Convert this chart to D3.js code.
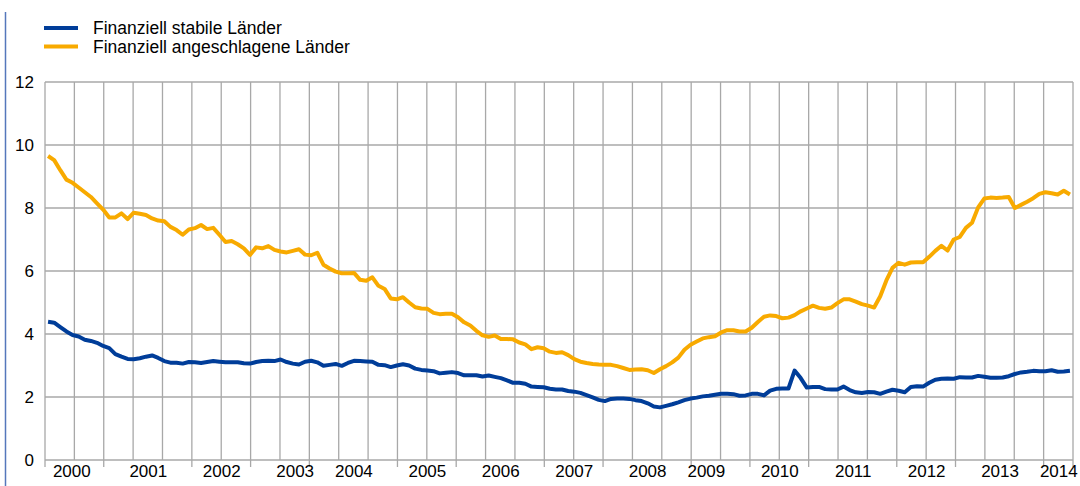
<!DOCTYPE html>
<html>
<head>
<meta charset="utf-8">
<script src="https://cdn.jsdelivr.net/npm/d3@7"></script>
<style>
  body { margin: 0; background: #fff; }
  svg { display: block; font-family: "Liberation Sans", Arial, sans-serif; }
  .grid line { stroke: #a8a8a8; stroke-width: 1.3; }
  .axis path { display: none; }
  .axis text { fill: #000; font-size: 17px; }
  .line { fill: none; stroke-width: 4; stroke-linejoin: round; }
</style>
</head>
<body>
<svg id="chart" width="1080" height="486"></svg>
<script>
// monthly values, Jan 2000 - Dec 2013
var stabile = [
  4.39, 4.36, 4.22, 4.08, 3.97, 3.92, 3.82, 3.78, 3.72, 3.62, 3.55, 3.36,
  3.28, 3.21, 3.20, 3.23, 3.28, 3.32, 3.24, 3.14, 3.09, 3.09, 3.06, 3.11,
  3.10, 3.08, 3.11, 3.14, 3.12, 3.10, 3.10, 3.10, 3.07, 3.06, 3.11, 3.14,
  3.15, 3.14, 3.19, 3.11, 3.06, 3.03, 3.12, 3.15, 3.10, 2.99, 3.02, 3.05,
  2.99, 3.08, 3.15, 3.14, 3.13, 3.12, 3.02, 3.01, 2.95, 3.00, 3.04, 3.00,
  2.90, 2.86, 2.84, 2.82, 2.75, 2.77, 2.79, 2.76, 2.69, 2.69, 2.69, 2.65,
  2.68, 2.64, 2.60, 2.53, 2.45, 2.45, 2.42, 2.33, 2.32, 2.31, 2.26, 2.24,
  2.24, 2.19, 2.17, 2.13, 2.06, 1.99, 1.91, 1.87, 1.94, 1.95, 1.95, 1.94,
  1.90, 1.87, 1.80, 1.70, 1.67, 1.72, 1.77, 1.83, 1.90, 1.95, 1.98, 2.02,
  2.04, 2.07, 2.10, 2.10, 2.09, 2.04, 2.05, 2.10, 2.10, 2.05, 2.20, 2.26,
  2.27, 2.27, 2.84, 2.60, 2.30, 2.32, 2.32, 2.25, 2.24, 2.24, 2.33, 2.22,
  2.15, 2.13, 2.16, 2.15, 2.10, 2.17, 2.23, 2.20, 2.15, 2.32, 2.34, 2.33,
  2.45, 2.55, 2.58, 2.59, 2.58, 2.63, 2.62, 2.62, 2.67, 2.64, 2.61, 2.61,
  2.62, 2.66, 2.73, 2.78, 2.80, 2.83, 2.82, 2.82, 2.85, 2.80, 2.81, 2.83
];
var angeschlagen = [
  9.65, 9.52, 9.20, 8.90, 8.80, 8.65, 8.50, 8.35, 8.15, 7.95, 7.70, 7.70,
  7.83, 7.65, 7.85, 7.82, 7.78, 7.67, 7.60, 7.58, 7.40, 7.30, 7.15, 7.32,
  7.36, 7.46, 7.33, 7.37, 7.15, 6.92, 6.95, 6.85, 6.72, 6.51, 6.75, 6.72,
  6.79, 6.67, 6.62, 6.59, 6.64, 6.69, 6.52, 6.50, 6.58, 6.20, 6.08, 5.98,
  5.93, 5.93, 5.94, 5.72, 5.69, 5.80, 5.53, 5.43, 5.13, 5.10, 5.17, 5.00,
  4.85, 4.81, 4.80, 4.67, 4.63, 4.64, 4.64, 4.53, 4.37, 4.27, 4.10, 3.96,
  3.91, 3.95, 3.84, 3.84, 3.83, 3.73, 3.67, 3.52, 3.58, 3.55, 3.44, 3.40,
  3.42, 3.33, 3.20, 3.12, 3.08, 3.05, 3.03, 3.02, 3.02, 2.98, 2.92, 2.86,
  2.87, 2.88, 2.85, 2.76, 2.88, 2.98, 3.10, 3.25, 3.50, 3.66, 3.76, 3.86,
  3.90, 3.93, 4.05, 4.12, 4.12, 4.08, 4.08, 4.20, 4.38, 4.55, 4.59, 4.57,
  4.50, 4.52, 4.60, 4.72, 4.81, 4.90, 4.83, 4.80, 4.84, 4.98, 5.10, 5.10,
  5.03, 4.95, 4.90, 4.84, 5.20, 5.70, 6.10, 6.26, 6.20, 6.27, 6.28, 6.28,
  6.45, 6.64, 6.80, 6.65, 7.00, 7.08, 7.37, 7.53, 8.02, 8.30, 8.33, 8.32,
  8.33, 8.35, 8.00, 8.10, 8.20, 8.31, 8.45, 8.50, 8.47, 8.43, 8.55, 8.43
];
var seriesNames = ["Finanziell stabile Länder", "Finanziell angeschlagene Länder"];
var seriesColors = ["#003d99", "#f8aa00"];
var years = ["2000", "2001", "2002", "2003", "2004", "2005", "2006", "2007",
             "2008", "2009", "2010", "2011", "2012", "2013", "2014"];
// where the year labels sit, in months from the start
var yearAt = [4.3, 16.8, 28.8, 40.8, 50.4, 62.4, 74.4, 86.4, 98.4, 108, 120, 132, 144, 156, 165.6];
// gridline numbers that get a small tick below the axis
var tickLines = [0, 2, 5, 7, 9, 12, 14, 17, 19, 22, 24, 26, 29, 31, 34, 35];
var yTicks = [0, 2, 4, 6, 8, 10, 12];

var svg = d3.select("#chart"),
    margin = {top: 82, right: 7, bottom: 26, left: 45},
    width = svg.attr("width") - margin.left - margin.right,
    height = svg.attr("height") - margin.top - margin.bottom,
    g = svg.append("g").attr("transform", "translate(" + margin.left + "," + margin.top + ")");

var n = stabile.length,
    step = n / 35;
var x = d3.scaleLinear().domain([0, n]).range([0, width]),
    y = d3.scaleLinear().domain([0, 12]).range([height, 0]);

// page frame line on the left
svg.append("line")
    .attr("x1", 5.5).attr("x2", 5.5)
    .attr("y1", 12).attr("y2", 486)
    .attr("stroke", "#5577bb").attr("stroke-width", 1.5);

// grid
g.append("g")
    .attr("class", "grid")
    .selectAll("line.v")
    .data(d3.range(0, n + 0.01, step))
    .enter().append("line")
      .attr("x1", function(d) { return x(d); })
      .attr("x2", function(d) { return x(d); })
      .attr("y1", 0).attr("y2", height);

g.append("g")
    .attr("class", "grid")
    .selectAll("line.h")
    .data(yTicks)
    .enter().append("line")
      .attr("x1", 0).attr("x2", width)
      .attr("y1", function(d) { return y(d); })
      .attr("y2", function(d) { return y(d); });

// small ticks under the axis
g.append("g")
    .attr("class", "grid")
    .selectAll("line.t")
    .data(tickLines)
    .enter().append("line")
      .attr("x1", function(d) { return x(d * step); })
      .attr("x2", function(d) { return x(d * step); })
      .attr("y1", height).attr("y2", height + 7);

// axes
g.append("g")
    .attr("class", "axis axis--x")
    .attr("transform", "translate(0," + height + ")")
    .call(d3.axisBottom(x).tickValues(yearAt).tickSize(0).tickPadding(5)
      .tickFormat(function(d, i) { return years[i]; }));

g.append("g")
    .attr("class", "axis axis--y")
    .call(d3.axisLeft(y).tickValues(yTicks).tickSize(0).tickPadding(11));

// lines
var line = d3.line()
    .x(function(d, i) { return x(i + 0.5); })
    .y(function(d) { return y(d); });

g.append("path")
    .attr("class", "line")
    .attr("d", line(angeschlagen))
    .style("stroke", seriesColors[1]);

g.append("path")
    .attr("class", "line")
    .attr("d", line(stabile))
    .style("stroke", seriesColors[0]);

// legend
var legend = svg.append("g").selectAll("g")
    .data(seriesNames)
    .enter().append("g")
      .attr("transform", function(d, i) { return "translate(44," + (28 + i * 18.5) + ")"; });

legend.append("line")
    .attr("x1", 0).attr("x2", 34)
    .attr("stroke-width", 4)
    .attr("stroke", function(d, i) { return seriesColors[i]; });

legend.append("text")
    .attr("x", 49)
    .attr("dy", "0.35em")
    .style("font-size", "17.5px")
    .text(function(d) { return d; });
</script>
</body>
</html>
